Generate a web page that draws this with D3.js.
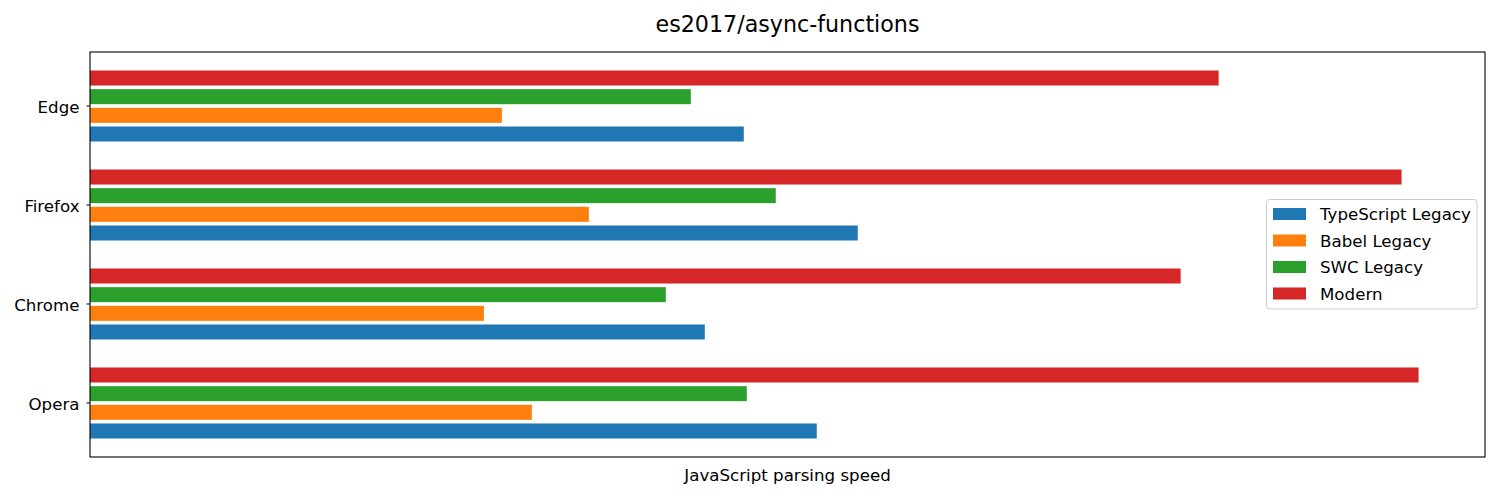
<!DOCTYPE html>
<html>
<head>
<meta charset="utf-8">
<script src="https://cdn.jsdelivr.net/npm/d3@7"></script>
<style>
  body { margin: 0; background: #fff; }
  text { font-family: "DejaVu Sans", sans-serif; fill: #000; }
</style>
</head>
<body>
<div id="chart"></div>
<script>
// data
const browsers = ["Edge", "Firefox", "Chrome", "Opera"];
const seriesNames = ["TypeScript Legacy", "Babel Legacy", "SWC Legacy", "Modern"];
const typescriptLegacy = [654, 768, 615, 727];
const babelLegacy = [412, 499, 394, 442];
const swcLegacy = [601, 686, 576, 657];
const modern = [1129, 1312, 1091, 1329];
const colors = ["#1f77b4", "#ff7f0e", "#2ca02c", "#d62728"];

const seriesValues = [typescriptLegacy, babelLegacy, swcLegacy, modern];

const width = 1500;
const height = 500;
const margin = { top: 52, right: 15, bottom: 43, left: 90 };
const innerwidth = width - margin.left - margin.right;
const innerheight = height - margin.top - margin.bottom;

const svg = d3.select("#chart")
    .append("svg")
    .attr("width", width)
    .attr("height", height);

const innerChart = svg.append("g")
    .attr("transform", `translate(${margin.left},${margin.top})`);

const maxVal = d3.max(seriesValues, s => d3.max(s));
const xScale = d3.scaleLinear()
    .domain([0, maxVal * 1.05])
    .range([0, innerwidth]);

const yScale = d3.scaleBand()
    .domain(browsers)
    .range([0, innerheight])
    .paddingInner(0)
    .paddingOuter(0.0455);

// top bar in each group is Modern, bottom is TypeScript
const groupHalf = 35.5;
const subScale = d3.scaleBand()
    .domain(seriesNames.slice().reverse())
    .range([-groupHalf, groupHalf])
    .paddingInner(0.196);

const rows = [];
seriesNames.forEach((name, si) => {
    browsers.forEach((b, bi) => {
        rows.push({ series: name, browser: b, value: seriesValues[si][bi], color: colors[si] });
    });
});

// Create the bars
innerChart
    .selectAll("rect.bar")
    .data(rows)
    .join("rect")
    .attr("class", "bar")
    .attr("x", 0)
    .attr("y", d => yScale(d.browser) + yScale.bandwidth() / 2 + subScale(d.series))
    .attr("width", d => xScale(d.value))
    .attr("height", subScale.bandwidth())
    .attr("fill", d => d.color);

// left axis with category labels
const leftAxis = d3.axisLeft(yScale).tickSize(3.5).tickPadding(7);
const yAxisG = innerChart.append("g").call(leftAxis);
yAxisG.select(".domain").remove();
yAxisG.selectAll("line").attr("stroke", "#000").attr("stroke-width", 1);
yAxisG.selectAll("text")
    .attr("dy", "0.4em")
    .style("font-family", "DejaVu Sans, sans-serif")
    .style("font-size", "16.67px")
    .attr("fill", "#000");

// frame
innerChart.append("rect")
    .attr("x", 0)
    .attr("y", 0)
    .attr("width", innerwidth)
    .attr("height", innerheight)
    .attr("fill", "none")
    .attr("stroke", "#000")
    .attr("stroke-width", 1.1);

// title and axis label
svg.append("text")
    .text("es2017/async-functions")
    .attr("x", margin.left + innerwidth / 2)
    .attr("y", 32)
    .attr("text-anchor", "middle")
    .style("font-size", "22.2px");

svg.append("text")
    .text("JavaScript parsing speed")
    .attr("x", margin.left + innerwidth / 2)
    .attr("y", 481)
    .attr("text-anchor", "middle")
    .style("font-size", "16.67px");

// legend
const legend = svg.append("g").attr("transform", "translate(1266.5,199.5)");
legend.append("rect")
    .attr("width", 210.5)
    .attr("height", 109.5)
    .attr("rx", 3)
    .attr("fill", "#fff")
    .attr("fill-opacity", 0.8)
    .attr("stroke", "#cccccc")
    .attr("stroke-width", 1);

const items = legend.selectAll("g.item")
    .data(seriesNames)
    .join("g")
    .attr("class", "item")
    .attr("transform", (d, i) => `translate(0,${14.5 + i * 26.5})`);

items.append("rect")
    .attr("x", 6.5)
    .attr("y", -6)
    .attr("width", 33)
    .attr("height", 12)
    .attr("fill", (d, i) => colors[i]);

items.append("text")
    .text(d => d)
    .attr("x", 53.5)
    .attr("y", 6)
    .style("font-size", "16.67px");
</script>
</body>
</html>
